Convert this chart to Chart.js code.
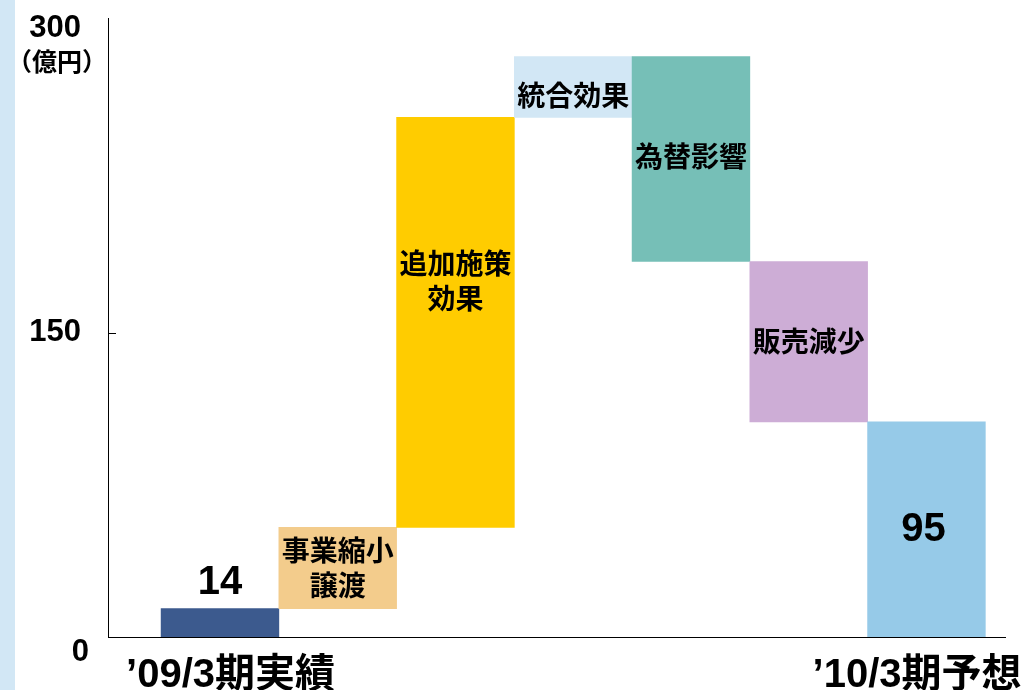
<!DOCTYPE html>
<html>
<head>
<meta charset="utf-8">
<script src="https://cdn.jsdelivr.net/npm/chart.js@4"></script>
<style>
  html, body { margin: 0; padding: 0; background: #fff; }
  #wrap { width: 1025px; height: 690px; }
</style>
</head>
<body>
<div id="wrap"><canvas id="chart"></canvas></div>
<script>
// waterfall: each step is a floating bar [from, to] (億円)
const tickLabels = ['’09/3期実績', '', '', '', '', '', '’10/3期予想'];
const barTexts = [['14'], ['事業縮小', '譲渡'], ['追加施策', '効果'], ['統合効果'], ['為替影響'], ['販売減少'], ['95']];
const barFrom = [0, 14, 54, 256, 286, 185, 106];
const barTo = [14, 54, 256, 286, 185, 106, 0];
const barColors = ['#3C5A8E', '#F3CC8C', '#FFCC00', '#D2E7F5', '#76BFB7', '#CDADD6', '#96CAE8'];
const yTicks = [0, 150, 300];

const LATIN = "'Liberation Sans', Arial, 'Noto Sans CJK JP', sans-serif";
const CJK = "'Noto Sans CJK JP', 'Liberation Sans', sans-serif";

// the slide's bottom labels are not exactly under the bar centres
const labelNudge = [0.09, 0, 0, 0, 0, 0, -0.08];

const extras = {
    id: 'extras',
    beforeDraw(chart) {
        const c = chart.ctx;
        c.save();
        c.fillStyle = '#D2E7F5';
        c.fillRect(0, 0, 15, chart.height);
        c.restore();
    },
    afterDatasetsDraw(chart) {
        const c = chart.ctx;
        const bars = chart.getDatasetMeta(0).data;
        // small nudges so the text sits like the original slide
        const shift = [0, 0, -42, 8, -3, 0, 0];
        c.save();
        c.fillStyle = '#000';
        c.textAlign = 'center';
        c.textBaseline = 'middle';
        bars.forEach(function (bar, i) {
            const lines = barTexts[i];
            const top = Math.min(bar.y, bar.base);
            const bot = Math.max(bar.y, bar.base);
            const numeric = /^\d+$/.test(lines[0]);
            if (numeric) {
                c.font = 'bold 40px ' + LATIN;
                if (bot - top < 50) {
                    c.fillText(lines[0], bar.x, top - 26);
                } else {
                    c.fillText(lines[0], bar.x - 3, (top + bot) / 2 + 1);
                }
                return;
            }
            c.font = 'bold 28px ' + CJK;
            const lh = 35;
            const mid = (top + bot) / 2 + shift[i];
            lines.forEach(function (t, k) {
                c.fillText(t, bar.x, mid + (k - (lines.length - 1) / 2) * lh);
            });
        });
        c.restore();
    },
    afterDraw(chart) {
        const c = chart.ctx;
        const y = chart.scales.y;
        c.save();
        // inward tick at 150
        c.strokeStyle = '#000';
        c.lineWidth = 1;
        const p = Math.round(y.getPixelForValue(150)) + 0.5;
        c.beginPath();
        c.moveTo(y.right, p);
        c.lineTo(y.right + 8, p);
        c.stroke();
        c.fillStyle = '#000';
        c.textAlign = 'right';
        c.textBaseline = 'middle';
        c.font = 'bold 31px ' + LATIN;
        c.fillText('0', 89, y.getPixelForValue(0) + 15);
        c.textAlign = 'center';
        c.font = 'bold 25px ' + CJK;
        c.fillText('（億円）', 57, 61);
        c.restore();
    }
};

new Chart(document.getElementById('chart'), {
    type: 'bar',
    data: {
        datasets: [{
            data: barFrom.map((v, i) => ({ x: i, y: [v, barTo[i]] })),
            backgroundColor: barColors,
            borderWidth: 0,
            barPercentage: 1,
            categoryPercentage: 1
        }]
    },
    options: {
        responsive: true,
        maintainAspectRatio: false,
        animation: false,
        layout: { padding: { top: 18, right: 20, left: 0, bottom: 0 } },
        plugins: { legend: { display: false }, tooltip: { enabled: false } },
        scales: {
            x: {
                type: 'linear',
                min: -0.951,
                max: 6.667,
                offset: false,
                afterBuildTicks: s => {
                    // only the labelled categories get a tick
                    s.ticks = tickLabels
                        .map((t, i) => ({ value: i + labelNudge[i], label: t }))
                        .filter(t => t.label !== '');
                },
                afterFit: s => { s.height = 53; s.paddingLeft = 0; s.paddingRight = 0; },
                grid: { display: false },
                border: { display: true, color: '#000', width: 1 },
                ticks: {
                    autoSkip: false,
                    maxRotation: 0,
                    padding: 7,
                    color: '#000',
                    font: { family: LATIN, size: 40, weight: 'bold' },
                    callback: (v, i, ticks) => ticks[i].label
                }
            },
            y: {
                min: 0,
                max: 305,
                afterBuildTicks: s => { s.ticks = yTicks.map(v => ({ value: v })); },
                afterFit: s => { s.width = 108; s.paddingTop = 0; s.paddingBottom = 0; },
                grid: { display: false },
                border: { display: true, color: '#000', width: 1 },
                ticks: {
                    padding: 19,
                    color: '#000',
                    font: { family: LATIN, size: 31, weight: 'bold' },
                    callback: v => (v === 0 ? '' : String(v))
                }
            }
        }
    },
    plugins: [extras]
});
</script>
</body>
</html>
